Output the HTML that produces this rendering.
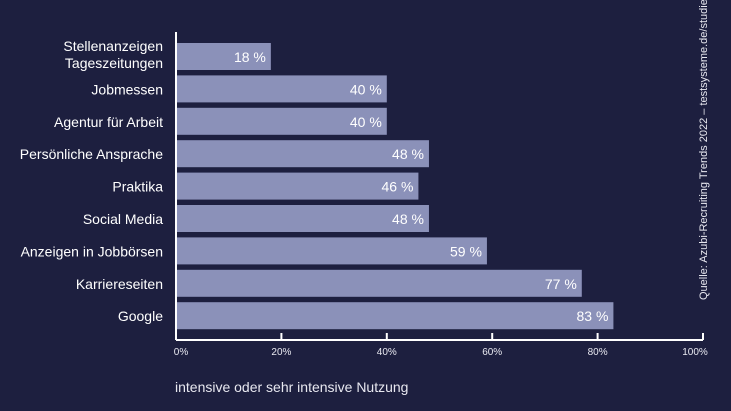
<!DOCTYPE html>
<html><head><meta charset="utf-8"><style>
body{margin:0;width:731px;height:411px;background:#1d1f3f;overflow:hidden;font-family:"Liberation Sans",sans-serif}
</style></head><body>
<svg width="731" height="411" style="position:absolute;left:0;top:0">
<g id="bars"></g>
<g id="axes"></g>
<text x="175" y="392" fill="#e8e8f0" font-size="14">intensive oder sehr intensive Nutzung</text>
<text transform="translate(707,300) rotate(-90)" fill="#e8e8f0" font-size="11">Quelle: Azubi-Recruiting Trends 2022 – testsysteme.de/studie</text>
</svg>
<script>
const categories=[["Stellenanzeigen","Tageszeitungen"],["Jobmessen"],["Agentur für Arbeit"],["Persönliche Ansprache"],["Praktika"],["Social Media"],["Anzeigen in Jobbörsen"],["Karriereseiten"],["Google"]];
const values=[18,40,40,48,46,48,59,77,83];
const tickLabels=["0%","20%","40%","60%","80%","100%"];
const tickValues=[0,20,40,60,80,100];
const NS="http://www.w3.org/2000/svg";
const x0=176,x1=703,top0=43,pitch=32.4,bh=27;
const xs=v=>x0+v/100*(x1-x0);
const ys=i=>top0+i*pitch;
const bars=document.getElementById('bars'),axes=document.getElementById('axes');
function mk(tag,attrs,parent){const e=document.createElementNS(NS,tag);for(const k in attrs)e.setAttribute(k,attrs[k]);parent.appendChild(e);return e;}
values.forEach((v,i)=>{
 const r=mk('rect',{x:x0+1,y:ys(i),width:xs(v)-x0-1,height:bh,fill:'#8b91b9'},bars);
 
 
 const t=mk('text',{x:xs(v)-5,y:ys(i)+19,'text-anchor':'end',fill:'#fff','font-size':14},bars);
 t.textContent=v+' %';
 
 
 const lines=categories[i];
 lines.forEach((ln,j)=>{
  const c=mk('text',{x:163,y:ys(i)+(lines.length>1?8+j*17:19),'text-anchor':'end',fill:'#fff','font-size':14},bars);
  c.textContent=ln;
  
  
 });
});
mk('line',{x1:x0,y1:32,x2:x0,y2:340,stroke:'#fff','stroke-width':2},axes);
mk('line',{x1:x0,y1:340,x2:x1,y2:340,stroke:'#fff','stroke-width':2},axes);
tickValues.forEach((v,i)=>{
 if(v>0)mk('line',{x1:xs(v),y1:333,x2:xs(v),y2:340,stroke:'#fff','stroke-width':2},axes);
 const t=mk('text',{x:v==0?x0+5:(v==100?xs(v)-8:xs(v)),y:355,'text-anchor':'middle',fill:'#e8e8f0','font-size':10},axes);
 t.textContent=tickLabels[i];
 
 
});
</script>
</body></html>
